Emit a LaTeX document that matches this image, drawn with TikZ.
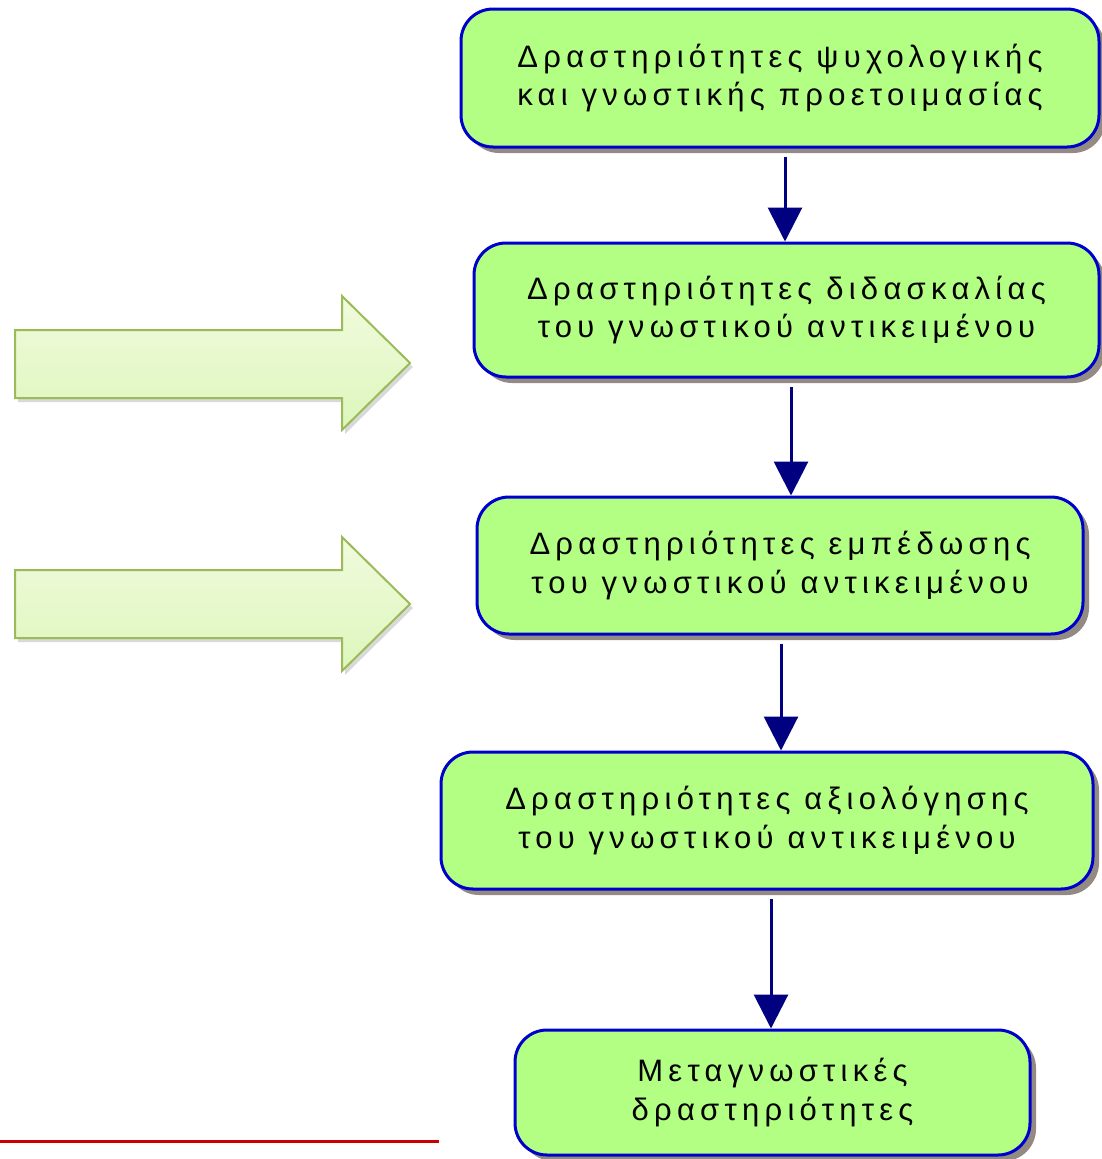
\documentclass[tikz,border=0pt]{standalone}
\usepackage{fontspec}
\setmainfont[LetterSpace=17]{Liberation Sans}
\usetikzlibrary{shadows,arrows.meta}
\definecolor{boxfill}{HTML}{B2FF84}
\definecolor{boxline}{HTML}{0000CC}
\definecolor{flowcol}{HTML}{000080}
\definecolor{shadowgray}{HTML}{948A84}
\definecolor{bigtop}{HTML}{F0FBDD}
\definecolor{bigbot}{HTML}{DDF6BC}
\definecolor{bigline}{HTML}{9BBB59}
\definecolor{redline}{HTML}{CC0000}
\tikzset{
  stepbox/.style={draw=boxline, line width=3pt, fill=boxfill, rounded corners=32pt,
    align=center, font=\fontsize{31}{38.5}\selectfont, inner sep=0pt,
    drop shadow={shadow xshift=6pt, shadow yshift=-6pt, fill=shadowgray, opacity=1}},
  flow/.style={draw=flowcol, line width=3pt, -{Triangle[length=34pt,width=34pt]}},
  bigarrow/.style={draw=bigline, line width=2pt, top color=bigtop, bottom color=bigbot,
    drop shadow={shadow xshift=3pt, shadow yshift=-4pt, fill=black, opacity=0.15}},
}
\begin{document}
\begin{tikzpicture}[x=1pt,y=-1pt]
\useasboundingbox (0,0) rectangle (1101,1159);
% boxes
\node[stepbox, minimum width=638pt, minimum height=138pt] (b1) at (780,78)
  {Δραστηριότητες ψυχολογικής\\και γνωστικής προετοιμασίας};
\node[stepbox, minimum width=625pt, minimum height=134pt] (b2) at (786.5,310)
  {Δραστηριότητες διδασκαλίας\\του γνωστικού αντικειμένου};
\node[stepbox, minimum width=606pt, minimum height=137pt] (b3) at (780,565.5)
  {Δραστηριότητες εμπέδωσης\\του γνωστικού αντικειμένου};
\node[stepbox, minimum width=652pt, minimum height=137pt] (b4) at (767,820.5)
  {Δραστηριότητες αξιολόγησης\\του γνωστικού αντικειμένου};
\node[stepbox, minimum width=515pt, minimum height=125pt] (b5) at (772.5,1092.5)
  {Μεταγνωστικές\\δραστηριότητες};
% connectors
\draw[flow] ([xshift=5pt,yshift=-8pt]b1.south) -- ([xshift=5pt]b1.south |- b2.north);
\draw[flow] ([xshift=4.5pt,yshift=-8pt]b2.south) -- ([xshift=4.5pt]b2.south |- b3.north);
\draw[flow] ([xshift=1pt,yshift=-8pt]b3.south) -- ([xshift=1pt]b3.south |- b4.north);
\draw[flow] ([xshift=4pt,yshift=-8pt]b4.south) -- ([xshift=4pt]b4.south |- b5.north);
% big arrows
\path[bigarrow] (15,330) -- (342,330) -- (342,296) -- (410,363) -- (342,430) -- (342,398) -- (15,398) -- cycle;
\path[bigarrow] (15,570) -- (342,570) -- (342,537) -- (410,604) -- (342,671) -- (342,638) -- (15,638) -- cycle;
% red line
\draw[redline, line width=3pt] (0,1141.5) -- (439,1141.5);
\end{tikzpicture}
\end{document}
